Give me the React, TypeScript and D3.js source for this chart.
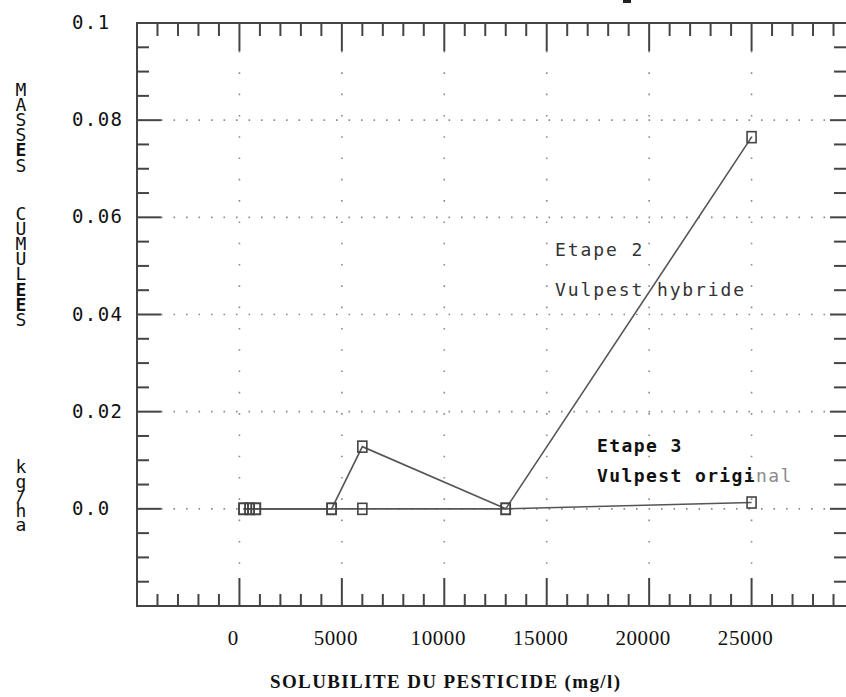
import React from "react";
import * as d3 from "d3";

// Solubility of the pesticide (mg/l) and cumulated masses (kg/ha)
const etape2X = [200, 500, 800, 4500, 6000, 13000, 25000];
const etape2Y = [0, 0, 0, 0, 0.0128, 0, 0.0765];
const etape3X = [200, 500, 800, 4500, 6000, 13000, 25000];
const etape3Y = [0, 0, 0, 0, 0, 0, 0.0013];

const xMajor = [0, 5000, 10000, 15000, 20000, 25000];
const xTickLabels = ["0", "5000", "10000", "15000", "20000", "25000"];
const yMajor = [0, 0.02, 0.04, 0.06, 0.08, 0.1];
const yTickLabels = ["0.0", "0.02", "0.04", "0.06", "0.08", "0.1"];
const yGrid = [0, 0.02, 0.04, 0.06, 0.08];

const yTitleWords = ["MASSES", "CUMULEES", "kg/ha"];
const xTitle = "SOLUBILITE DU PESTICIDE (mg/l)";

const W = 846;
const H = 697;
const left = 137;
const right = 854;
const top = 23;
const bottom = 606;

const AX = "#444";
const GRID = "#8a8a8a";

export default function App() {
  const x = d3.scaleLinear().domain([-5000, 30000]).range([left, right]);
  const y = d3.scaleLinear().domain([-0.02, 0.1]).range([bottom, top]);

  const xMinor = d3.range(-5000, 30001, 1000).filter((v) => v % 5000 !== 0);
  const yMinor = d3.range(-20, 101, 5).filter((v) => v % 20 !== 0).map((v) => v / 1000);

  const line = d3
    .line<[number, number]>()
    .x((d) => x(d[0]))
    .y((d) => y(d[1]));

  const s2 = etape2X.map((v, i) => [v, etape2Y[i]] as [number, number]);
  const s3 = etape3X.map((v, i) => [v, etape3Y[i]] as [number, number]);

  // stacked vertical title: each word set upright in vertical writing mode
  const wordTops = [79, 203, 456];
  const wordSpacing = [-5.9, -5.9, -6.4];

  const mono = "'DejaVu Sans Mono', monospace";
  const serif = "'Liberation Serif', serif";

  return (
    <svg
      width={W}
      height={H}
      style={{ position: "absolute", left: 0, top: 0, background: "#fff" }}
    >
      <rect x={0} y={0} width={W} height={H} fill="#fff" />

      {/* dotted grid */}
      {yGrid.map((v) => (
        <line
          key={"hg" + v}
          x1={left + 24}
          x2={right - 20}
          y1={y(v)}
          y2={y(v)}
          stroke={GRID}
          strokeWidth={1.6}
          strokeDasharray="1.6 10.9"
        />
      ))}
      {xMajor.map((v) => (
        <line
          key={"vg" + v}
          x1={x(v)}
          x2={x(v)}
          y1={top + 28}
          y2={bottom - 28}
          stroke={GRID}
          strokeWidth={1.6}
          strokeDasharray="1.6 19.7"
        />
      ))}

      {/* frame */}
      <rect
        x={left}
        y={top}
        width={right - left}
        height={bottom - top}
        fill="none"
        stroke={AX}
        strokeWidth={2}
      />

      {/* x ticks top & bottom */}
      {xMinor.map((v) => (
        <g key={"xm" + v} stroke={AX} strokeWidth={2}>
          <line x1={x(v)} x2={x(v)} y1={top} y2={top + 13} />
          <line x1={x(v)} x2={x(v)} y1={bottom} y2={bottom - 12} />
        </g>
      ))}
      {xMajor.map((v) => (
        <g key={"xM" + v} stroke={AX} strokeWidth={2}>
          <line x1={x(v)} x2={x(v)} y1={top} y2={top + 28} />
          <line x1={x(v)} x2={x(v)} y1={bottom} y2={bottom - 28} />
        </g>
      ))}

      {/* y ticks left & right */}
      {yMinor.map((v) => (
        <g key={"ym" + v} stroke={AX} strokeWidth={2}>
          <line x1={left} x2={left + 12} y1={y(v)} y2={y(v)} />
          <line x1={right} x2={right - 20} y1={y(v)} y2={y(v)} />
        </g>
      ))}
      {yMajor.map((v) => (
        <g key={"yM" + v} stroke={AX} strokeWidth={2}>
          <line x1={left} x2={left + 24} y1={y(v)} y2={y(v)} />
          <line x1={right} x2={right - 24} y1={y(v)} y2={y(v)} />
        </g>
      ))}

      {/* y tick labels */}
      {yMajor.map((v, i) => (
        <text
          key={"yl" + v}
          x={72}
          y={y(v) + 6}
          fontFamily={mono}
          fontSize={19}
          letterSpacing={1.4}
          fill="#111"
        >
          {yTickLabels[i]}
        </text>
      ))}

      {/* x tick labels */}
      {xMajor.map((v, i) => (
        <text
          key={"xl" + v}
          x={x(v) - 6}
          y={645}
          textAnchor="middle"
          fontFamily={serif}
          fontSize={21}
          letterSpacing={0.6}
          fill="#111"
        >
          {xTickLabels[i]}
        </text>
      ))}

      {/* x title */}
      <text
        x={270}
        y={688}
        fontFamily={serif}
        fontWeight="bold"
        fontSize={19}
        textLength={350}
        lengthAdjust="spacing"
        fill="#111"
      >
        {xTitle}
      </text>

      {/* y title, letters stacked upright */}
      {yTitleWords.map((w, wi) => (
        <text
          key={"yt" + wi}
          x={21}
          y={wordTops[wi]}
          fontFamily={mono}
          fontSize={18}
          fill="#111"
          letterSpacing={wordSpacing[wi]}
          style={{ writingMode: "vertical-rl", textOrientation: "upright" } as any}
        >
          {w.split("").map((ch, i) =>
            ch === "E" ? (
              <tspan key={i} fontWeight="bold">
                {ch}
              </tspan>
            ) : (
              <tspan key={i}>{ch}</tspan>
            )
          )}
        </text>
      ))}

      {/* series lines */}
      <path d={line(s3) || ""} fill="none" stroke="#555" strokeWidth={1.6} />
      <path d={line(s2) || ""} fill="none" stroke="#555" strokeWidth={1.6} />

      {/* markers */}
      {[...s2, ...s3].map((d, i) => (
        <rect
          key={"mk" + i}
          x={x(d[0]) - 4.5}
          y={y(d[1]) - 5.5}
          width={9}
          height={11}
          fill="none"
          stroke="#444"
          strokeWidth={1.6}
        />
      ))}

      {/* series annotations */}
      <g fontFamily={mono} fontSize={18} letterSpacing={1.9} fill="#333">
        <text x={555} y={256}>Etape 2</text>
        <text x={555} y={296}>Vulpest hybride</text>
      </g>
      <g fontFamily={mono} fontSize={18} letterSpacing={1.4} fill="#111" fontWeight="bold">
        <text x={597} y={452}>Etape 3</text>
        <text x={597} y={482}>
          Vulpest origi<tspan fill="#8a8a8a" fontWeight="normal">nal</tspan>
        </text>
      </g>

      {/* legend fragment at the top edge */}
      <rect x={623} y={-4} width={8} height={7} fill="#222" />
    </svg>
  );
}
